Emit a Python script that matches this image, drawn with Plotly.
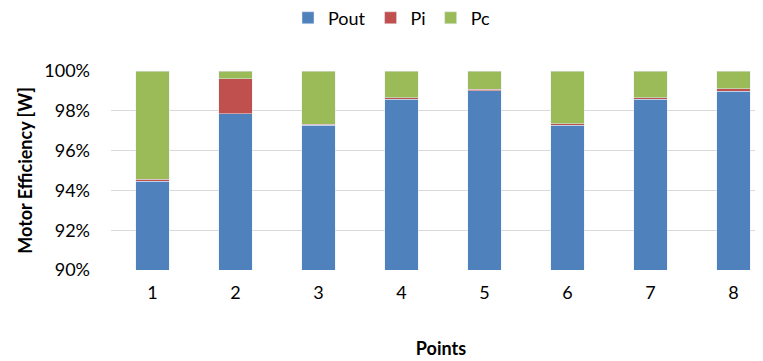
import plotly.graph_objects as go

points = ["1", "2", "3", "4", "5", "6", "7", "8"]
pout = [0.9445, 0.9784, 0.9727, 0.9858, 0.9901, 0.9727, 0.9858, 0.9899]
pi = [0.0010, 0.0176, 0.0006, 0.0007, 0.0007, 0.0008, 0.0008, 0.0012]
pc = [round(1 - a - b, 4) for a, b in zip(pout, pi)]

xpos = list(range(len(points)))
font = "Lato"

fig = go.Figure()
fig.add_bar(x=xpos, y=pout, name="Pout", marker_color="#4F81BD", width=0.4)
fig.add_bar(x=xpos, y=pi, name="Pi", marker_color="#C0504D", width=0.4)
fig.add_bar(x=xpos, y=pc, name="Pc", marker_color="#9BBB59", width=0.4)

fig.update_layout(
    barmode="stack",
    width=763, height=361,
    margin=dict(l=103, r=0, t=63, b=99, autoexpand=False),
    paper_bgcolor="white", plot_bgcolor="white",
    font=dict(family=font, size=18, color="#000000"),
    legend=dict(orientation="h", x=0.425, xanchor="center", y=1.266, yref="paper",
                yanchor="middle", font=dict(size=18), itemwidth=30,
                traceorder="normal"),
    xaxis=dict(
        tickmode="array", tickvals=xpos, ticktext=points,
        range=[-0.5, 7.452], showgrid=False, zeroline=False,
        showline=False, ticks="", ticklabelstandoff=10,
        title=dict(text="<b>Points</b>", font=dict(size=18), standoff=40),
    ),
    yaxis=dict(
        range=[0.9, 1.0], dtick=0.02, tickformat=".0%",
        showgrid=True, gridcolor="#D9D9D9", gridwidth=1,
        zeroline=False, showline=False, ticks="", ticklabelstandoff=20,
        title=dict(text="<b>Motor Efficiency [W]</b>", font=dict(size=18), standoff=6),
    ),
)

fig.write_html("out.html")
